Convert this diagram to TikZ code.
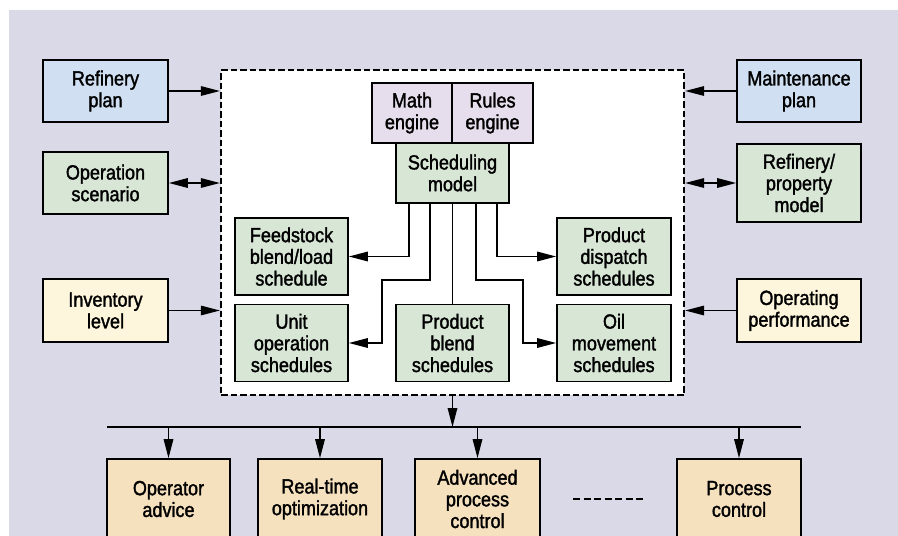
\documentclass[tikz,border=0pt]{standalone}
\usepackage{fontspec}
\setmainfont{Liberation Sans}[FakeStretch=0.88,FakeBold=1.6]
\usepackage{tikz}
\usetikzlibrary{arrows.meta,calc}

\definecolor{bgpanel}{HTML}{DAD9E8}
\definecolor{planblue}{HTML}{D0DFF1}
\definecolor{modgreen}{HTML}{D8E6D6}
\definecolor{lvlyellow}{HTML}{FDF6DC}
\definecolor{ctrlorange}{HTML}{F6E1BF}
\definecolor{engpurple}{HTML}{E6DEEC}

\tikzset{
  box/.style={draw, line width=1.6pt, align=center, inner sep=0pt,
    font=\fontsize{20.5}{21.7}\selectfont},
  sidebox/.style={box, minimum width=125pt, minimum height=62pt},
  schedbox/.style={box, fill=modgreen, minimum width=113pt, minimum height=77pt},
  ctrlbox/.style={box, fill=ctrlorange, minimum width=124pt, minimum height=80pt},
  link/.style={line width=1.5pt, -{Triangle[length=19pt,width=9.5pt]}},
  twoway/.style={line width=1.5pt, {Triangle[length=19pt,width=9.5pt]}-{Triangle[length=19pt,width=9.5pt]}},
}

\begin{document}
\begin{tikzpicture}[x=1pt,y=-1pt]
        \useasboundingbox (0,0) rectangle (898,536);
        \clip (0,0) rectangle (898,536);
        \fill[bgpanel] (9,10) rectangle (898,536);

        % scheduling system
        \node[draw, fill=white, line width=2.2pt, dash pattern=on 6.5pt off 3pt,
              minimum width=463pt, minimum height=325pt] (core) at (452.5,232.5) {};
        \node[box, fill=engpurple, minimum width=80pt, minimum height=60pt] (math) at (412,113) {Math\\engine};
        \node[box, fill=engpurple, minimum width=81pt, minimum height=60pt] (rules) at (492.5,113) {Rules\\engine};
        \node[box, fill=modgreen, minimum width=113pt, minimum height=60pt] (sched) at (452.5,173) {Scheduling\\model};
        \node[schedbox] (feed) at (291.5,256.5) {Feedstock\\blend/load\\schedule};
        \node[schedbox] (unit) at (291.5,343) {Unit\\operation\\schedules};
        \node[schedbox] (blend) at (452.5,343) {Product\\blend\\schedules};
        \node[schedbox, minimum width=114pt] (disp) at (614,256.5) {Product\\dispatch\\schedules};
        \node[schedbox, minimum width=114pt] (oil) at (614,343) {Oil\\movement\\schedules};

        \draw[link] ([xshift=-43.5pt]sched.south) |- (feed);
        \draw[link] ([xshift=-22.5pt]sched.south) -- ++(0,76) -| ([xshift=33pt]unit.east) -- (unit.east);
        \draw[line width=1.5pt] (sched) -- (blend);
        \draw[link] ([xshift=23.5pt]sched.south) -- ++(0,76) -| ([xshift=-33pt]oil.west) -- (oil.west);
        \draw[link] ([xshift=44.5pt]sched.south) |- (disp);

        % inputs
        \node[sidebox, fill=planblue] (rplan) at (105.5,91) {Refinery\\plan};
        \node[sidebox, fill=modgreen] (scen) at (105.5,183) {Operation\\scenario};
        \node[sidebox, fill=lvlyellow, minimum height=63pt] (inv) at (105.5,310.5) {Inventory\\level};
        \node[sidebox, fill=planblue, minimum width=124pt] (mplan) at (799,91) {Maintenance\\plan};
        \node[sidebox, fill=modgreen, minimum width=124pt, minimum height=78pt] (prop) at (799,183) {Refinery/\\property\\model};
        \node[sidebox, fill=lvlyellow, minimum width=124pt, minimum height=63pt] (perf) at (799,310.5) {Operating\\performance};

        \draw[link] (rplan) -- (rplan -| core.west);
        \draw[twoway] (scen) -- (scen -| core.west);
        \draw[link] (inv) -- (inv -| core.west);
        \draw[link] (mplan) -- (mplan -| core.east);
        \draw[twoway] (prop) -- (prop -| core.east);
        \draw[link] (perf) -- (perf -| core.east);

        % outputs
        \coordinate (busL) at (107,427);
        \coordinate (busR) at (801,427);
        \draw[line width=2.4pt] (busL) -- (busR);
        \draw[link] (core.south) -- (core.south |- busL);

        \node[ctrlbox, minimum width=123pt] (advice) at (168.5,499) {Operator\\advice};
        \node[ctrlbox] (rto) at (320,499) {Real-time\\optimization};
        \node[ctrlbox, minimum width=125pt] (apc) at (477.5,499) {Advanced\\process\\control};
        \node[ctrlbox] (pctrl) at (739,499) {Process\\control};
        \foreach \b in {advice,rto,apc,pctrl}
          \draw[link] (\b.north |- busL) -- (\b.north);
        \draw[line width=2.5pt, dash pattern=on 7pt off 3.5pt] (573,499) -- (645,499);
\end{tikzpicture}
\end{document}
